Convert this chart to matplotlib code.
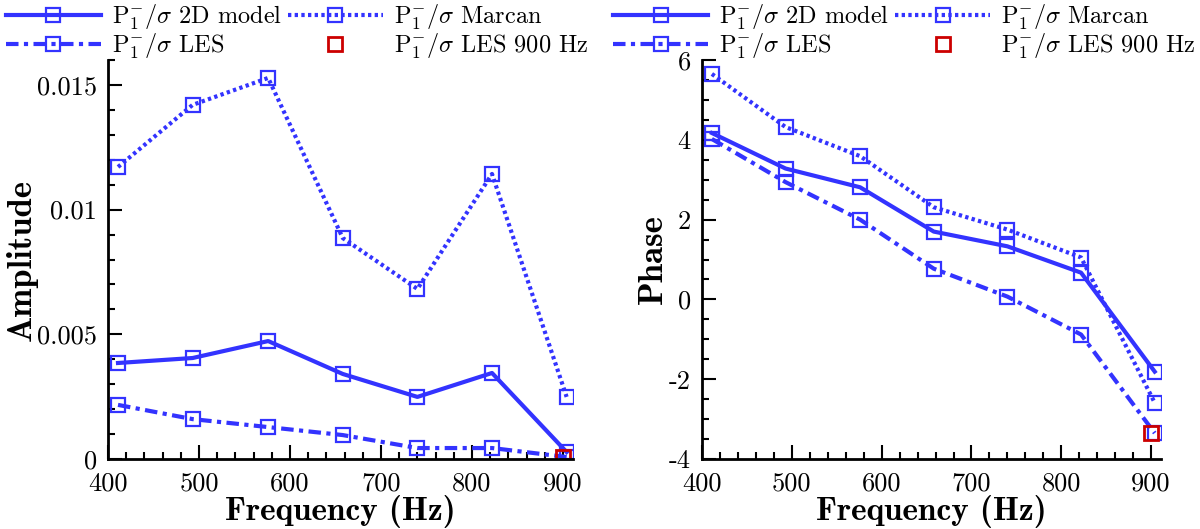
import matplotlib
matplotlib.use("Agg")
import matplotlib.pyplot as plt
from matplotlib.ticker import MultipleLocator, FixedLocator, FuncFormatter

plt.rcParams['font.family'] = ['cmr10', 'DejaVu Serif']
plt.rcParams['mathtext.fontset'] = 'cm'
plt.rcParams['axes.unicode_minus'] = False
plt.rcParams['axes.formatter.use_mathtext'] = False

freq = [411, 493, 576, 658, 740, 822, 904]

amp_model = [0.00385, 0.00405, 0.00473, 0.00341, 0.00249, 0.00345, 0.00028]
amp_marcan = [0.01171, 0.0142, 0.01528, 0.00886, 0.00682, 0.01143, 0.00249]
amp_les = [0.00217, 0.0016, 0.00128, 0.00096, 0.00044, 0.00044, 0.00008]

phase_model = [4.17, 3.28, 2.81, 1.70, 1.33, 0.67, -1.81]
phase_marcan = [5.65, 4.32, 3.59, 2.31, 1.75, 1.05, -2.59]
phase_les = [4.02, 2.94, 2.00, 0.77, 0.07, -0.88, -3.35]

les900_freq = [900]
les900_amp = [0.00008]
les900_phase = [-3.35]

labels = [r'$\mathrm{P}^{-}_{1}/\sigma$ 2D model',
          r'$\mathrm{P}^{-}_{1}/\sigma$ Marcan',
          r'$\mathrm{P}^{-}_{1}/\sigma$ LES',
          r'$\mathrm{P}^{-}_{1}/\sigma$ LES 900 Hz']

blue = '#3333ff'
red = '#cc0000'

fig = plt.figure(figsize=(12, 5.29), dpi=100)
ax1 = fig.add_axes([0.09, 0.1323, 0.3875, 0.7543])
ax2 = fig.add_axes([0.585, 0.1323, 0.3825, 0.7543])

mk = dict(marker='s', markersize=10, markerfacecolor='none',
          markeredgecolor=blue, markeredgewidth=1.6, color=blue)


def draw(ax, model, marcan, les, red_y):
    h1, = ax.plot(freq, model, '-', lw=3, label=labels[0], **mk)
    h2, = ax.plot(freq, marcan, linestyle=(0, (0.8, 0.8)), lw=3, label=labels[1], **mk)
    h3, = ax.plot(freq, les, linestyle=(0, (3, 1.3, 1, 1.3)), lw=3, label=labels[2], **mk)
    h4, = ax.plot(les900_freq, red_y, 's', markersize=10, markerfacecolor='none',
                  markeredgecolor=red, markeredgewidth=2, label=labels[3])
    for s in ['top', 'right']:
        ax.spines[s].set_visible(False)
    for s in ['left', 'bottom']:
        ax.spines[s].set_linewidth(2)
    ax.tick_params(which='both', direction='in', width=1.5, labelsize=19)
    ax.tick_params(which='major', length=10)
    ax.tick_params(which='minor', length=5)
    ax.tick_params(axis='x', pad=9)
    ax.tick_params(axis='y', pad=8)
    ax.set_xlim(400, 911)
    ax.xaxis.set_major_locator(MultipleLocator(100))
    ax.xaxis.set_minor_locator(MultipleLocator(20))
    ax.set_xlabel('Frequency (Hz)', fontsize=24, family='cmb10', labelpad=0)
    return [h1, h2, h3, h4]


hs = draw(ax1, amp_model, amp_marcan, amp_les, les900_amp)
ax1.set_ylim(0, 0.016)
ax1.yaxis.set_major_locator(FixedLocator([0, 0.005, 0.01, 0.015]))
ax1.yaxis.set_minor_locator(MultipleLocator(0.001))
ax1.yaxis.set_major_formatter(FuncFormatter(lambda v, p: ('%g' % round(v, 4))))
ax1.set_ylabel('Amplitude', fontsize=25, family='cmb10', labelpad=-1)

draw(ax2, phase_model, phase_marcan, phase_les, les900_phase)
ax2.set_ylim(-4, 6)
ax2.yaxis.set_major_locator(MultipleLocator(2))
ax2.yaxis.set_minor_locator(MultipleLocator(0.5))
ax2.yaxis.set_major_formatter(FuncFormatter(lambda v, p: '%d' % round(v)))
ax2.set_ylabel('Phase', fontsize=25, family='cmb10', labelpad=0)

# row-major order in the legend: model, Marcan / LES, LES 900 Hz
order = [0, 2, 1, 3]
for x0 in [0.005, 0.511]:
    fig.legend([hs[i] for i in order], [labels[i] for i in order],
               loc='upper left', bbox_to_anchor=(x0, 0.995), ncol=2,
               frameon=False, fontsize=17.5, handlelength=3.9, handletextpad=0.45,
               columnspacing=0.25, labelspacing=0.0, borderaxespad=0.0,
               borderpad=0.0)

fig.savefig('out.png', dpi=100)
